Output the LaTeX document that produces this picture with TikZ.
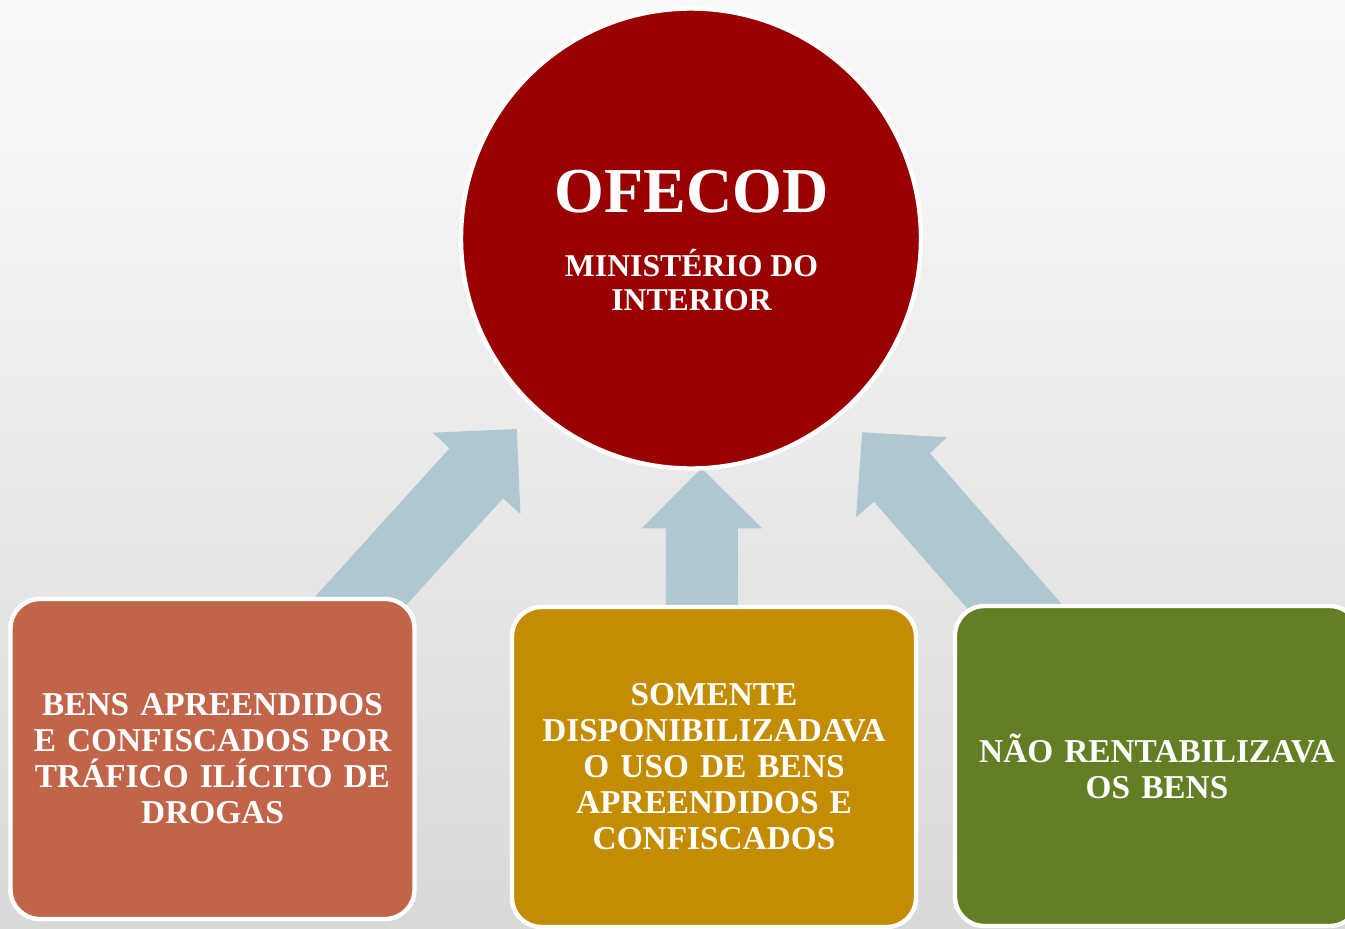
\documentclass[tikz,border=0pt]{standalone}
\usepackage{fontspec}
\setmainfont{Liberation Serif}
\definecolor{circlered}{RGB}{153,0,0}
\definecolor{boxA}{RGB}{192,101,74}
\definecolor{boxB}{RGB}{196,140,0}
\definecolor{boxC}{RGB}{100,126,38}
\definecolor{arrowc}{RGB}{174,199,209}
\definecolor{bgtop}{RGB}{250,250,250}
\definecolor{bgmid}{RGB}{237,237,237}
\definecolor{bgbot}{RGB}{217,217,217}
\begin{document}
\begin{tikzpicture}[x=0.75pt,y=-0.75pt,
  bigcirc/.style={circle, fill=circlered, draw=white, line width=3.3pt, minimum size=345pt, inner sep=0pt},
  card/.style={rounded corners=22pt, draw=white, line width=3.3pt, minimum width=303pt, minimum height=240pt, inner sep=0pt, text width=300pt, align=center, text=white, font=\bfseries\fontsize{25}{27}\selectfont},
  blockarrow/.style={fill=arrowc},
  titletext/.style={text=white, font=\bfseries\fontsize{48}{50}\selectfont, anchor=base, inner sep=0pt},
  subtext/.style={text=white, font=\bfseries\fontsize{23.8}{25.5}\selectfont, anchor=base, inner sep=0pt}
]
\useasboundingbox (0,0) rectangle (1345,928);
\shade[top color=bgtop, middle color=bgmid, bottom color=bgbot] (0,0) rectangle (1345,928);

% block arrows
\fill[blockarrow] (294,620) -- (449.5,448.3) -- (432.7,432.7) -- (516.8,429) -- (520.4,514) -- (503,498.3) -- (392.8,620) -- cycle;
\fill[blockarrow] (665.8,620) -- (665.8,528.3) -- (641.8,528.3) -- (701.5,468.3) -- (762.2,528.3) -- (737.8,528.3) -- (737.8,620) -- cycle;
\fill[blockarrow] (1084.4,630) -- (930,453.3) -- (947,437.3) -- (862.2,432.3) -- (856,517.3) -- (874,501.7) -- (986.1,630) -- cycle;

% circle
\node[bigcirc] (ofecod) at (691,238.5) {};
\node[titletext] (t1) at (691.5,212) {OFECOD};
\node[subtext] (t2) at (691.5,276.7) {MINISTÉRIO DO};
\node[subtext] (t3) at (691.5,310.7) {INTERIOR};

% boxes
\node[card, fill=boxA] (bens) at (212.5,759) {BENS APREENDIDOS\\E CONFISCADOS POR\\TRÁFICO ILÍCITO DE\\DROGAS};
\node[card, fill=boxB] (somente) at (714,767) {SOMENTE\\DISPONIBILIZADAVA\\O USO DE BENS\\APREENDIDOS E\\CONFISCADOS};
\node[card, fill=boxC] (nao) at (1157,766) {NÃO RENTABILIZAVA\\OS BENS};
\end{tikzpicture}
\end{document}
